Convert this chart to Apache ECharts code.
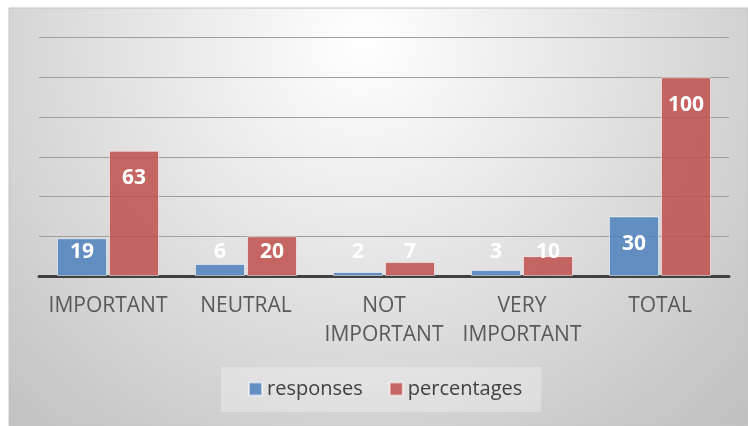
<!DOCTYPE html>
<html>
<head>
<meta charset="utf-8">
<script src="https://cdn.jsdelivr.net/npm/echarts@6/dist/echarts.min.js"></script>
<style>
  html, body { margin: 0; padding: 0; background: #ffffff; }
  #chart { width: 748px; height: 426px; }
</style>
</head>
<body>
<div id="chart"></div>
<script>
// Survey answers: raw response counts and their share in percent
const categories = ['IMPORTANT', 'NEUTRAL', 'NOT IMPORTANT', 'VERY IMPORTANT', 'TOTAL'];
const responses = [19, 6, 2, 3, 30];
const percentages = [63, 20, 7, 10, 100];
const seriesNames = ['responses', 'percentages'];

const yMin = 0;
const yMax = 120;
const yStep = 20;

// Tall bars carry their value just inside the top; short ones keep it near the base
function withLabels(values) {
  return values.map(v => ({
    value: v,
    label: v >= 25
      ? { position: 'insideTop', distance: 17 }
      : { position: 'insideBottom', distance: 13 }
  }));
}

const labelStyle = {
  show: true,
  color: '#ffffff',
  fontFamily: 'Open Sans',
  fontWeight: 'bold',
  fontSize: 21
};

const chart = echarts.init(document.getElementById('chart'), null, { renderer: 'canvas' });

chart.setOption({
  backgroundColor: '#ffffff',
  animation: false,
  graphic: [{
    type: 'rect',
    z: -10,
    silent: true,
    shape: { x: 9, y: 8, width: 739, height: 418 },
    style: {
      fill: {
        type: 'radial',
        x: 0.48, y: 0.08, r: 1.3,
        colorStops: [
          { offset: 0, color: '#ffffff' },
          { offset: 0.35, color: '#e9e9e9' },
          { offset: 1, color: '#bfbfbf' }
        ]
      },
      stroke: '#c4c4c4',
      lineWidth: 1
    }
  }],
  grid: { left: 39, right: 19, top: 37.5, bottom: 150, containLabel: false },
  legend: {
    data: seriesNames,
    left: 221,
    top: 367,
    padding: [12, 19, 13, 27],
    itemGap: 26,
    itemWidth: 13,
    itemHeight: 13,
    icon: 'rect',
    backgroundColor: 'rgba(255,255,255,0.28)',
    textStyle: { color: '#404040', fontFamily: 'Open Sans', fontSize: 20 }
  },
  xAxis: {
    type: 'category',
    data: categories,
    axisTick: { show: false },
    axisLine: { lineStyle: { color: '#404040', width: 3 } },
    axisLabel: {
      color: '#595959',
      fontFamily: 'Open Sans',
      fontSize: 21,
      lineHeight: 29,
      margin: 16,
      interval: 0,
      formatter: s => s.replace(' ', '\n')
    }
  },
  yAxis: {
    type: 'value',
    min: yMin,
    max: yMax,
    interval: yStep,
    axisLabel: { show: false },
    axisLine: { show: false },
    axisTick: { show: false },
    splitLine: { lineStyle: { color: '#9e9e9e', width: 1.2 } }
  },
  series: [
    {
      name: seriesNames[0],
      type: 'bar',
      barWidth: 50,
      barGap: '4%',
      data: withLabels(responses),
      itemStyle: {
        color: 'rgba(79,129,189,0.86)',
        borderColor: 'rgba(255,255,255,0.55)',
        borderWidth: 1
      },
      label: labelStyle
    },
    {
      name: seriesNames[1],
      type: 'bar',
      barWidth: 50,
      barGap: '4%',
      data: withLabels(percentages),
      itemStyle: {
        color: 'rgba(192,80,77,0.86)',
        borderColor: 'rgba(255,255,255,0.55)',
        borderWidth: 1
      },
      label: labelStyle
    }
  ]
});
</script>
</body>
</html>
